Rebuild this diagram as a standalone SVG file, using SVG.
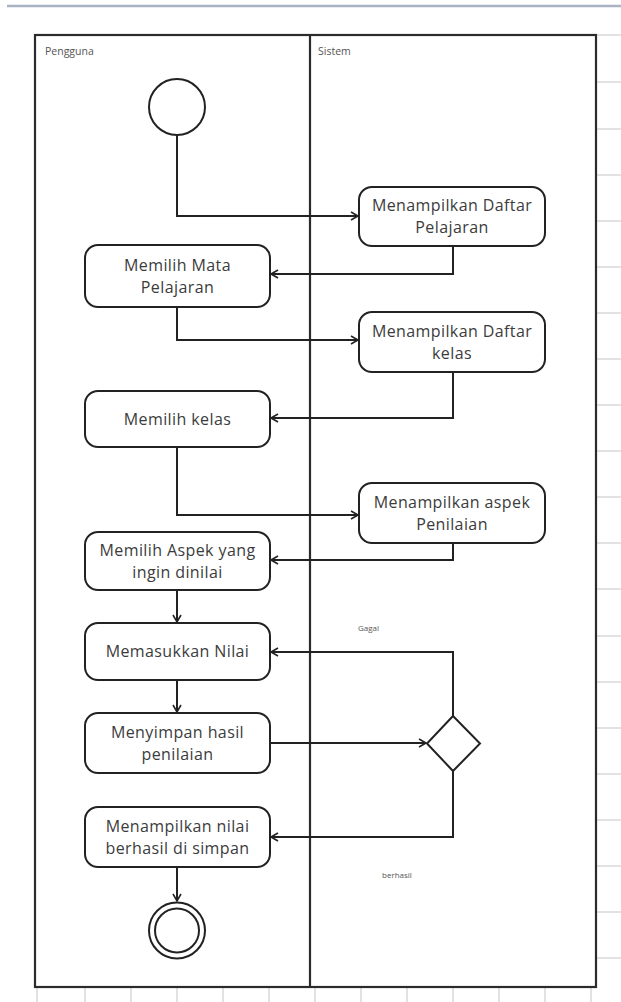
<svg xmlns="http://www.w3.org/2000/svg" width="621" height="1002" viewBox="0 0 621 1002">
  <style>
    .bg { fill: #ffffff; }
    .topbar { stroke: #a9b3c4; stroke-width: 2.5; }
    .grid { stroke: #d9d9d9; stroke-width: 1.5; }
    .frame { fill: none; stroke: #2b2b2b; stroke-width: 2.2; }
    .lane-title { font-family: "Open Sans", "Liberation Sans", sans-serif; font-size: 10.5px; fill: #555555; }
    .act rect { fill: #ffffff; stroke: #222222; stroke-width: 2; }
    .act text { font-family: "Open Sans", "Liberation Sans", sans-serif; font-size: 16px; letter-spacing: 0.4px; fill: #3c3c3c; text-anchor: middle; }
    .edge { fill: none; stroke: #222222; stroke-width: 2; }
    .guard { font-family: "Open Sans", "Liberation Sans", sans-serif; font-size: 8px; fill: #555555; }
    .node-shape { fill: #ffffff; stroke: #222222; stroke-width: 2; }
  </style>
  <defs>
    <marker id="arrow" markerUnits="userSpaceOnUse" markerWidth="12" markerHeight="12" refX="8" refY="5" orient="auto">
      <path d="M1,1 L8,5 L1,9" fill="none" stroke="#222222" stroke-width="1.6"/>
    </marker>
  </defs>

  <rect class="bg" x="0" y="0" width="621" height="1002"/>

  <!-- page header rule -->
  <line class="topbar" x1="7" y1="6" x2="621" y2="6"/>

  <!-- sheet grid visible outside the swimlane frame -->
  <g id="sheet-grid">
    <line class="grid" x1="597" y1="35" x2="621" y2="35"/>
    <line class="grid" x1="597" y1="82" x2="621" y2="82"/>
    <line class="grid" x1="597" y1="129" x2="621" y2="129"/>
    <line class="grid" x1="597" y1="175" x2="621" y2="175"/>
    <line class="grid" x1="597" y1="221" x2="621" y2="221"/>
    <line class="grid" x1="597" y1="267" x2="621" y2="267"/>
    <line class="grid" x1="597" y1="313" x2="621" y2="313"/>
    <line class="grid" x1="597" y1="359" x2="621" y2="359"/>
    <line class="grid" x1="597" y1="405" x2="621" y2="405"/>
    <line class="grid" x1="597" y1="451" x2="621" y2="451"/>
    <line class="grid" x1="597" y1="497" x2="621" y2="497"/>
    <line class="grid" x1="597" y1="543" x2="621" y2="543"/>
    <line class="grid" x1="597" y1="589" x2="621" y2="589"/>
    <line class="grid" x1="597" y1="636" x2="621" y2="636"/>
    <line class="grid" x1="597" y1="682" x2="621" y2="682"/>
    <line class="grid" x1="597" y1="728" x2="621" y2="728"/>
    <line class="grid" x1="597" y1="774" x2="621" y2="774"/>
    <line class="grid" x1="597" y1="820" x2="621" y2="820"/>
    <line class="grid" x1="597" y1="866" x2="621" y2="866"/>
    <line class="grid" x1="597" y1="912" x2="621" y2="912"/>
    <line class="grid" x1="597" y1="958" x2="621" y2="958"/>
    <line class="grid" x1="37" y1="988" x2="37" y2="1002"/>
    <line class="grid" x1="85" y1="988" x2="85" y2="1002"/>
    <line class="grid" x1="131" y1="988" x2="131" y2="1002"/>
    <line class="grid" x1="177" y1="988" x2="177" y2="1002"/>
    <line class="grid" x1="223" y1="988" x2="223" y2="1002"/>
    <line class="grid" x1="269" y1="988" x2="269" y2="1002"/>
    <line class="grid" x1="315" y1="988" x2="315" y2="1002"/>
    <line class="grid" x1="361" y1="988" x2="361" y2="1002"/>
    <line class="grid" x1="407" y1="988" x2="407" y2="1002"/>
    <line class="grid" x1="453" y1="988" x2="453" y2="1002"/>
    <line class="grid" x1="499" y1="988" x2="499" y2="1002"/>
    <line class="grid" x1="545" y1="988" x2="545" y2="1002"/>
    <line class="grid" x1="591" y1="988" x2="591" y2="1002"/>
  </g>

  <!-- swimlanes -->
  <g id="swimlanes">
    <rect class="frame" x="35" y="35" width="561" height="952"/>
    <line class="frame" x1="310" y1="35" x2="310" y2="987"/>
    <text class="lane-title" x="45" y="55">Pengguna</text>
    <text class="lane-title" x="318" y="55">Sistem</text>
  </g>

  <!-- control flow -->
  <g id="connectors">
    <path class="edge" d="M177,135 V216 H358" marker-end="url(#arrow)"/>
    <path class="edge" d="M453,246 V274 H271" marker-end="url(#arrow)"/>
    <path class="edge" d="M177,307 V340 H358" marker-end="url(#arrow)"/>
    <path class="edge" d="M453,372 V418 H271" marker-end="url(#arrow)"/>
    <path class="edge" d="M177,447 V515 H358" marker-end="url(#arrow)"/>
    <path class="edge" d="M453,543 V560 H271" marker-end="url(#arrow)"/>
    <path class="edge" d="M177,590 V622" marker-end="url(#arrow)"/>
    <path class="edge" d="M177,680 V712" marker-end="url(#arrow)"/>
    <path class="edge" d="M270,743 H426" marker-end="url(#arrow)"/>
    <path class="edge" d="M453,716 V652 H271" marker-end="url(#arrow)"/>
    <path class="edge" d="M453,771 V837 H271" marker-end="url(#arrow)"/>
    <path class="edge" d="M177,867 V901" marker-end="url(#arrow)"/>
    <text class="guard" x="358" y="631">Gagal</text>
    <text class="guard" x="382" y="878">berhasil</text>
  </g>

  <g id="start">
    <circle class="node-shape" cx="177" cy="107" r="28"/>
  </g>

  <g id="act-tampil-pelajaran" class="act">
    <rect x="359" y="187" width="186" height="59" rx="13"/>
    <text x="452" y="211">Menampilkan Daftar</text>
    <text x="452" y="233">Pelajaran</text>
  </g>

  <g id="act-pilih-mapel" class="act">
    <rect x="85" y="245" width="185" height="62" rx="13"/>
    <text x="177.5" y="270.5">Memilih Mata</text>
    <text x="177.5" y="292.5">Pelajaran</text>
  </g>

  <g id="act-tampil-kelas" class="act">
    <rect x="359" y="312" width="186" height="60" rx="13"/>
    <text x="452" y="336.5">Menampilkan Daftar</text>
    <text x="452" y="358.5">kelas</text>
  </g>

  <g id="act-pilih-kelas" class="act">
    <rect x="85" y="391" width="185" height="56" rx="13"/>
    <text x="177.5" y="424.5">Memilih kelas</text>
  </g>

  <g id="act-tampil-aspek" class="act">
    <rect x="359" y="483" width="186" height="60" rx="13"/>
    <text x="452" y="507.5">Menampilkan aspek</text>
    <text x="452" y="529.5">Penilaian</text>
  </g>

  <g id="act-pilih-aspek" class="act">
    <rect x="85" y="532" width="185" height="58" rx="13"/>
    <text x="177.5" y="555.5">Memilih Aspek yang</text>
    <text x="177.5" y="577.5">ingin dinilai</text>
  </g>

  <g id="act-input-nilai" class="act">
    <rect x="85" y="623" width="185" height="57" rx="13"/>
    <text x="177.5" y="657">Memasukkan Nilai</text>
  </g>

  <g id="act-simpan" class="act">
    <rect x="85" y="713" width="185" height="60" rx="13"/>
    <text x="177.5" y="737.5">Menyimpan hasil</text>
    <text x="177.5" y="759.5">penilaian</text>
  </g>

  <g id="decision">
    <polygon class="node-shape" points="453,716 480,743.5 453,771 427,743.5"/>
  </g>

  <g id="act-tampil-nilai" class="act">
    <rect x="85" y="807" width="185" height="60" rx="13"/>
    <text x="177.5" y="831.5">Menampilkan nilai</text>
    <text x="177.5" y="853.5">berhasil di simpan</text>
  </g>

  <g id="end">
    <circle class="node-shape" cx="177" cy="930.5" r="28"/>
    <circle class="node-shape" cx="177" cy="930.5" r="22"/>
  </g>
</svg>
